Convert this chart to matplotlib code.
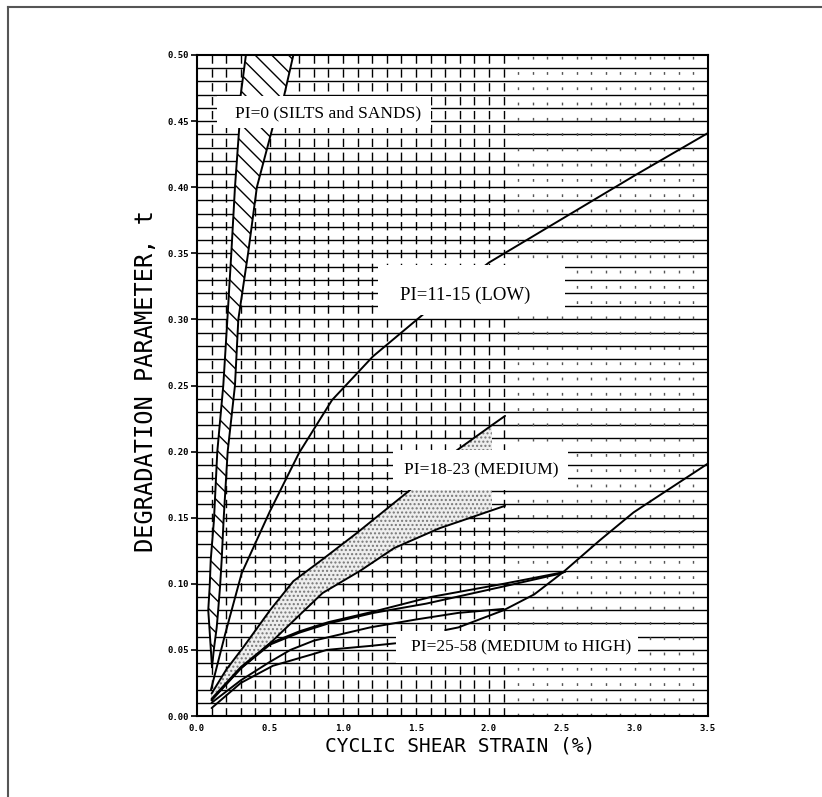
import matplotlib
matplotlib.use("Agg")
import matplotlib.pyplot as plt
from matplotlib.lines import Line2D
from matplotlib.patches import Rectangle
import numpy as np

# ---- data -----------------------------------------------------------------
# PI = 0 band (silts and sands): left / right boundaries as x(t)
pi0_t = [0.037, 0.05, 0.067, 0.08, 0.098, 0.118, 0.148, 0.20, 0.25, 0.30, 0.35, 0.40, 0.446, 0.466, 0.50]
pi0_left = [0.103, 0.095, 0.085, 0.077, 0.087, 0.094, 0.116, 0.139, 0.18, 0.208, 0.235, 0.26, 0.29, 0.295, 0.335]
pi0_right = [0.103, 0.115, 0.135, 0.145, 0.158, 0.169, 0.182, 0.21, 0.26, 0.283, 0.35, 0.41, 0.52, 0.59, 0.66]

# PI = 11-15 (low)
low_strain = [0.096, 0.193, 0.306, 0.50, 0.699, 0.925, 1.205, 1.562, 2.0, 2.5, 3.0, 3.5]
low_t = [0.020, 0.062, 0.108, 0.155, 0.199, 0.239, 0.272, 0.305, 0.343, 0.376, 0.409, 0.441]

# PI = 18-23 (medium): upper and lower bounds
med_up_strain = [0.1, 0.2, 0.317, 0.5, 0.66, 0.854, 1.09, 1.46, 1.78, 2.02, 2.11]
med_up_t = [0.017, 0.035, 0.052, 0.080, 0.102, 0.118, 0.138, 0.171, 0.201, 0.220, 0.227]
med_lo_strain = [0.1, 0.3, 0.5, 0.86, 1.12, 1.35, 1.66, 1.82, 2.11]
med_lo_t = [0.012, 0.036, 0.055, 0.093, 0.110, 0.127, 0.142, 0.148, 0.159]

# PI = 25-58 (medium to high): individual curves
hi1_strain = [0.1, 0.3, 0.5, 0.7, 0.9, 1.21, 1.6, 2.1, 2.52]
hi1_t = [0.013, 0.037, 0.055, 0.064, 0.071, 0.079, 0.090, 0.100, 0.109]
hi2_strain = [0.1, 0.3, 0.5, 0.7, 0.9, 1.21, 1.57, 2.1, 2.46, 2.52]
hi2_t = [0.012, 0.036, 0.054, 0.063, 0.070, 0.078, 0.085, 0.098, 0.107, 0.109]
hi3_strain = [0.1, 0.3, 0.5, 0.64, 0.8, 1.185, 1.5, 1.79, 2.1]
hi3_t = [0.010, 0.027, 0.041, 0.050, 0.057, 0.067, 0.073, 0.078, 0.081]
hi4_strain = [0.1, 0.3, 0.52, 0.8, 0.888, 1.185, 1.36]
hi4_t = [0.006, 0.025, 0.038, 0.047, 0.050, 0.053, 0.055]
hi5_strain = [1.70, 1.79, 2.1, 2.31, 2.51, 2.76, 2.99, 3.5]
hi5_t = [0.065, 0.067, 0.080, 0.092, 0.109, 0.133, 0.154, 0.191]

x_ticks = [0.0, 0.5, 1.0, 1.5, 2.0, 2.5, 3.0, 3.5]
y_ticks = [0.00, 0.05, 0.10, 0.15, 0.20, 0.25, 0.30, 0.35, 0.40, 0.45, 0.50]

labels = ["PI=0 (SILTS and SANDS)", "PI=11-15 (LOW)",
          "PI=18-23 (MEDIUM)", "PI=25-58 (MEDIUM to HIGH)"]
label_xy = [(0.897, 0.4555), (1.84, 0.318), (1.95, 0.1855), (2.22, 0.052)]
label_size = [12.5, 13.5, 12.5, 12.5]
label_boxes = [(0.14, 0.445, 1.60, 0.469), (1.24, 0.303, 2.52, 0.341),
               (1.34, 0.171, 2.54, 0.201), (1.36, 0.040, 3.02, 0.064)]

# ---- figure ---------------------------------------------------------------
fig = plt.figure(figsize=(8.22, 7.97), dpi=100)
ax = fig.add_axes([197 / 822, 1 - 716 / 797, 511 / 822, 661 / 797])
ax.set_xlim(0, 3.5)
ax.set_ylim(0, 0.5)

# chart paper grid
ax.hlines(np.arange(0.01, 0.5, 0.01), 0, 3.5, color="black", lw=1.0, zorder=1)
for xv in np.arange(0.1, 3.45, 0.1):
    if xv <= 2.15:
        ax.axvline(xv, color="black", lw=1.0, ls=(0, (6, 4)), zorder=1)
    else:
        ax.axvline(xv, color="#555555", lw=1.0, ls=(0, (2, 9)), zorder=1)

# PI = 0 hatched band
ax.fill_betweenx(pi0_t, pi0_left, pi0_right, facecolor="white", edgecolor="black",
                 hatch="\\\\", lw=0, zorder=2)
ax.plot(pi0_left, pi0_t, color="black", lw=1.4, zorder=3)
ax.plot(pi0_right, pi0_t, color="black", lw=1.4, zorder=3)

# PI = 18-23 stippled band
band_x = np.array(med_up_strain)
band_x = band_x[band_x <= 2.02]
ax.fill_between(band_x, np.interp(band_x, med_lo_strain, med_lo_t),
                np.interp(band_x, med_up_strain, med_up_t),
                facecolor="#eeeeee", edgecolor="#777777", hatch="....", lw=0, zorder=2)

curve_style = dict(color="black", lw=1.4, zorder=3, solid_capstyle="round")
ax.plot(low_strain, low_t, **curve_style)
ax.plot(med_up_strain, med_up_t, **curve_style)
ax.plot(med_lo_strain, med_lo_t, **curve_style)
for xs, ys in [(hi1_strain, hi1_t), (hi2_strain, hi2_t), (hi3_strain, hi3_t),
               (hi4_strain, hi4_t), (hi5_strain, hi5_t)]:
    ax.plot(xs, ys, **curve_style)

# group labels on white panels
for (x0, y0, x1, y1), txt, (tx, ty), fs in zip(label_boxes, labels, label_xy, label_size):
    ax.add_patch(Rectangle((x0, y0), x1 - x0, y1 - y0, facecolor="white",
                           edgecolor="none", zorder=4))
    ax.text(tx, ty, txt, ha="center", va="center", fontsize=fs,
            family="Liberation Serif", color="black", zorder=5)

# axes styling
for sp in ax.spines.values():
    sp.set_linewidth(1.5)
    sp.set_zorder(6)
ax.set_xticks(x_ticks)
ax.set_yticks(y_ticks)
ax.set_xticklabels([f"{v:.1f}" for v in x_ticks])
ax.set_yticklabels([f"{v:.2f}" for v in y_ticks])
ax.tick_params(axis="y", length=4, width=1.2, pad=2, direction="out")
ax.tick_params(axis="x", length=0, pad=6)
for lab in ax.get_xticklabels() + ax.get_yticklabels():
    lab.set_fontfamily("DejaVu Sans Mono")
    lab.set_fontsize(6.5)
    lab.set_fontweight("bold")

ax.set_xlabel("CYCLIC SHEAR STRAIN (%)", fontsize=14, family="DejaVu Sans Mono")
ax.xaxis.set_label_coords((460 - 197) / 511, -(737 - 716) / 661)
ax.set_ylabel("DEGRADATION PARAMETER, t", fontsize=17, family="DejaVu Sans Mono")
ax.yaxis.set_label_coords((158 - 197) / 511, (716 - 381) / 661)

# page border
fig.add_artist(Line2D([8 / 822, 1], [1 - 7 / 797] * 2, transform=fig.transFigure,
                      color="#555555", lw=1.5))
fig.add_artist(Line2D([8 / 822] * 2, [0, 1 - 7 / 797], transform=fig.transFigure,
                      color="#555555", lw=1.5))

fig.savefig("out.png", dpi=100, facecolor="white")
